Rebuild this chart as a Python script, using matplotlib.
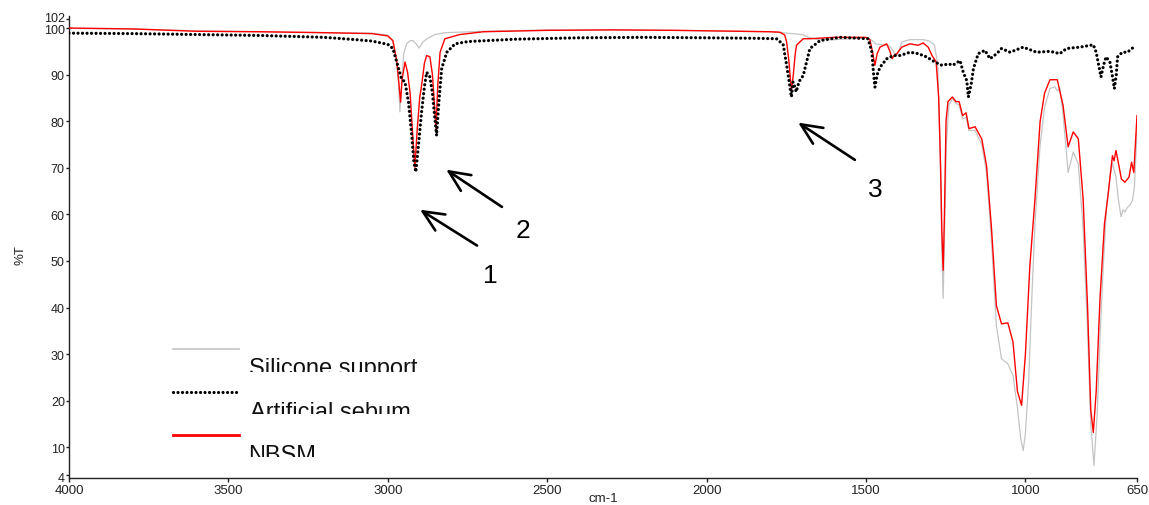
import matplotlib
matplotlib.use("Agg")
import matplotlib.pyplot as plt
import matplotlib.transforms as mtransforms
from matplotlib.lines import Line2D
from matplotlib.patches import Rectangle

plt.rcParams['font.family'] = ['Liberation Sans', 'DejaVu Sans']

# ---------------- data (wavenumber cm-1, %T) ----------------
sil_wn = [4000, 3800, 3600, 3400, 3200, 3050, 3000, 2985, 2975, 2966, 2962, 2957, 2950, 2941,
          2930, 2921, 2910, 2902, 2890, 2877, 2852, 2821, 2700, 2500, 2300, 2100, 2000, 1900,
          1800, 1750, 1700, 1680, 1650, 1600, 1550, 1500, 1480, 1470, 1450, 1430, 1418, 1410,
          1403, 1395, 1388, 1362, 1320, 1300, 1285, 1275, 1268, 1262, 1258, 1254, 1248, 1240,
          1229, 1218, 1208, 1197, 1186, 1177, 1158, 1137, 1122, 1107, 1091, 1075, 1055, 1039,
          1025, 1015, 1007, 1000, 990, 980, 970, 954, 940, 923, 908, 900, 892, 882, 866, 850,
          834, 819, 805, 795, 785, 775, 765, 755, 745, 735, 727, 716, 708, 700, 694, 688, 680,
          672, 664, 658, 650]
sil_t = [99.9, 99.8, 99.4, 99.2, 99.0, 98.9, 98.5, 97.2, 94.0, 88.0, 82.0, 88.0, 94.5, 96.6,
         97.3, 97.3, 96.5, 95.7, 97.0, 97.7, 98.6, 99.0, 99.3, 99.6, 99.6, 99.5, 99.4, 99.3,
         99.2, 98.9, 98.6, 98.0, 97.5, 97.5, 97.7, 97.9, 97.3, 96.6, 96.4, 96.3, 95.4, 94.5,
         94.1, 95.5, 97.0, 97.5, 97.5, 97.2, 96.3, 92.0, 75.0, 52.0, 42.0, 55.0, 75.0, 83.5,
         84.8, 83.8, 83.5, 80.5, 80.8, 78.0, 78.0, 75.0, 69.0, 55.0, 36.0, 29.0, 27.9, 25.4,
         18.5, 12.0, 9.3, 13.0, 24.0, 42.0, 58.0, 74.8, 83.0, 87.0, 87.4, 86.5, 87.0, 81.6,
         69.0, 73.4, 70.8, 56.9, 35.0, 15.0, 6.1, 17.0, 35.0, 50.0, 62.0, 68.0, 71.0, 68.0,
         63.0, 59.5, 61.0, 60.5, 61.5, 62.0, 63.0, 66.0, 78.0]

seb_wn = [4000, 3800, 3600, 3400, 3200, 3100, 3050, 3000, 2984, 2972, 2957, 2946, 2935, 2925,
          2918, 2912, 2905, 2894, 2885, 2878, 2868, 2860, 2853, 2847, 2840, 2831, 2815, 2789,
          2748, 2600, 2400, 2200, 2000, 1850, 1781, 1760, 1749, 1740, 1734, 1729, 1724, 1719,
          1710, 1697, 1676, 1644, 1582, 1494, 1482, 1476, 1472, 1465, 1456, 1435, 1414, 1393,
          1362, 1336, 1310, 1284, 1262, 1240, 1228, 1205, 1195, 1184, 1179, 1170, 1163, 1148,
          1127, 1111, 1090, 1075, 1048, 1007, 965, 923, 892, 871, 829, 787, 778, 770, 763, 755,
          747, 735, 728, 721, 715, 711, 696, 680, 664, 660]
seb_t = [98.9, 98.8, 98.6, 98.4, 98.0, 97.5, 97.2, 96.5, 95.6, 92.7, 89.1, 88.4, 84.0, 77.0,
         71.0, 69.1, 74.0, 82.0, 87.5, 90.5, 89.5, 86.0, 81.0, 76.9, 84.0, 91.3, 94.8, 96.6,
         97.1, 97.6, 97.9, 98.0, 97.9, 97.8, 97.7, 96.5, 92.0, 88.0, 85.2, 88.4, 87.5, 86.3,
         88.5, 89.8, 95.6, 97.3, 98.0, 97.7, 95.0, 90.0, 87.3, 90.0, 91.6, 93.4, 94.1, 94.1,
         94.8, 94.5, 93.8, 92.7, 92.0, 92.3, 92.0, 93.0, 90.5, 88.7, 85.2, 88.0, 91.3, 94.5,
         95.2, 93.4, 94.5, 95.6, 94.8, 95.9, 94.8, 95.0, 94.5, 95.6, 95.9, 96.4, 94.8, 92.0,
         89.5, 92.0, 93.8, 92.7, 90.0, 87.0, 90.0, 93.8, 94.8, 94.8, 95.7, 96.0]

nbsm_wn = [4000, 3800, 3600, 3400, 3200, 3050, 3000, 2984, 2972, 2965, 2960, 2955, 2946, 2938,
           2930, 2922, 2915, 2908, 2900, 2894, 2885, 2878, 2868, 2860, 2855, 2849, 2843, 2836,
           2821, 2774, 2700, 2500, 2300, 2100, 2000, 1900, 1800, 1770, 1755, 1749, 1742, 1736,
           1734, 1728, 1722, 1718, 1697, 1676, 1600, 1550, 1500, 1488, 1480, 1472, 1465, 1456,
           1435, 1425, 1418, 1410, 1403, 1388, 1362, 1336, 1321, 1305, 1293, 1280, 1272, 1266,
           1262, 1258, 1254, 1249, 1243, 1229, 1218, 1208, 1197, 1186, 1177, 1158, 1137, 1122,
           1107, 1091, 1075, 1055, 1039, 1025, 1012, 1000, 986, 970, 954, 940, 923, 900, 882,
           866, 850, 834, 819, 805, 795, 787, 778, 766, 752, 741, 733, 727, 722, 716, 711, 699,
           688, 675, 667, 660, 650]
nbsm_t = [100.0, 99.8, 99.3, 99.2, 99.0, 98.8, 98.3, 97.3, 93.0, 88.0, 84.1, 89.0, 92.7, 90.5,
          86.0, 77.0, 70.1, 78.0, 85.0, 87.7, 92.5, 94.1, 93.8, 90.0, 85.0, 78.4, 88.0, 94.8,
          97.7, 98.6, 99.2, 99.5, 99.6, 99.5, 99.4, 99.3, 99.2, 99.1, 98.5, 97.0, 93.0, 88.0,
          86.6, 90.0, 94.5, 96.3, 97.7, 97.7, 98.0, 98.0, 98.0, 97.5, 95.0, 92.0, 94.5, 95.9,
          96.6, 95.0, 93.4, 94.3, 94.5, 95.9, 96.6, 96.3, 96.8, 95.9, 94.1, 92.7, 85.0, 70.0,
          56.0, 48.0, 60.0, 80.0, 84.2, 85.2, 84.2, 84.2, 81.2, 81.8, 78.4, 78.8, 76.2, 70.5,
          57.6, 40.4, 36.5, 36.7, 32.6, 22.0, 19.0, 30.0, 49.0, 63.3, 79.9, 86.0, 88.9, 88.9,
          83.4, 74.5, 77.7, 76.2, 63.3, 40.0, 18.0, 13.2, 22.0, 42.0, 58.0, 64.0, 69.0, 72.6,
          71.5, 73.7, 72.0, 67.6, 66.9, 68.0, 71.2, 69.0, 81.2]

series_names = ["Silicone support", "Artificial sebum", "NBSM"]
x_ticks = [4000, 3500, 3000, 2500, 2000, 1500, 1000, 650]
y_ticks = [4, 10, 20, 30, 40, 50, 60, 70, 80, 90, 100, 102]

# annotation arrows
arrow_labels = ["1", "2", "3"]
arrow_head = [(2899, 61.0), (2817, 69.6), (1713, 79.7)]
arrow_tail = [(2720, 53.3), (2642, 61.6), (1535, 71.7)]
label_pos = [(2679, 47.0), (2576, 56.7), (1472, 65.5)]

# ---------------- figure ----------------
W, H = 1149, 506
fig = plt.figure(figsize=(W / 100, H / 100), dpi=100)
L, R, T_, B = 69, 1137, 17, 478.7
ax = fig.add_axes([L / W, 1 - B / H, (R - L) / W, (B - T_) / H])

GRAY = '#c4c4c4'
DOTS = (0, (0.01, 1.4))
ax.plot(sil_wn, sil_t, color=GRAY, lw=0.9, zorder=2)
ax.plot(nbsm_wn, nbsm_t, color='#ff0000', lw=1.0, zorder=3)
ax.plot(seb_wn, seb_t, color='black', lw=2.3, linestyle=DOTS,
        dash_capstyle='round', zorder=4)

ax.set_xlim(4000, 650)
ax.set_ylim(3.47, 102.58)
ax.set_xticks(x_ticks)
ax.set_xticklabels([str(v) for v in x_ticks])
ax.set_yticks(y_ticks)
ax.set_yticklabels([str(v) for v in y_ticks])
for s in ['top', 'right']:
    ax.spines[s].set_visible(False)
for s in ['left', 'bottom']:
    ax.spines[s].set_color('#222222')
    ax.spines[s].set_linewidth(1.0)
ax.tick_params(axis='x', direction='out', length=3, width=1, pad=1.5,
               labelsize=9.5, colors='#222222')
ax.tick_params(axis='y', direction='out', length=2.5, width=1, pad=0.5,
               labelsize=9, colors='#222222')
# nudge the top "102" label up slightly so it does not collide with "100"
top_lab = ax.yaxis.get_major_ticks()[-1].label1
top_lab.set_transform(top_lab.get_transform() +
                      mtransforms.ScaledTranslation(0, 2.5 / 100, fig.dpi_scale_trans))
bot_lab = ax.yaxis.get_major_ticks()[0].label1
bot_lab.set_transform(bot_lab.get_transform() +
                      mtransforms.ScaledTranslation(0, -1.5 / 100, fig.dpi_scale_trans))

fig.text(603 / W, 1 - 499 / H, "cm-1", ha='center', va='center', fontsize=9.5, color='#222222')
fig.text(20 / W, 1 - 255 / H, "%T", ha='center', va='center', rotation=90,
         fontsize=9.5, color='#222222')

for lab, hd, tl, lp in zip(arrow_labels, arrow_head, arrow_tail, label_pos):
    ax.annotate('', xy=hd, xytext=tl,
                arrowprops=dict(arrowstyle='->,head_length=0.75,head_width=0.34',
                                lw=1.9, color='black', mutation_scale=20,
                                shrinkA=0, shrinkB=0))
    ax.text(lp[0], lp[1], lab, ha='center', va='center', fontsize=19, color='black')

# custom (clipped) legend
def fx(px):
    return px / W

def fy(py):
    return 1 - py / H

leg_styles = [dict(color=GRAY, lw=1.2),
              dict(color='black', lw=2.3, linestyle=DOTS, dash_capstyle='round'),
              dict(color='#ff0000', lw=2.0)]
leg_line_y = [350, 393, 436]
leg_text_base = [375.5, 418.8, 462.0]
leg_text_clip = [373.3, 415.0, 458.3]
leg_text_x = [249, 250, 248]
for name, st, ly, tb, tc, tx in zip(series_names, leg_styles, leg_line_y,
                                    leg_text_base, leg_text_clip, leg_text_x):
    fig.add_artist(Line2D([fx(173), fx(239)], [fy(ly), fy(ly)],
                          transform=fig.transFigure, **st))
    t = fig.text(fx(tx), fy(tb), name, ha='left', va='baseline', fontsize=17, color='#111111')
    clip = Rectangle((0, fy(tc)), 1, fy(tb - 30) - fy(tc), transform=fig.transFigure)
    t.set_clip_path(clip)

fig.savefig('out.png', dpi=100)
